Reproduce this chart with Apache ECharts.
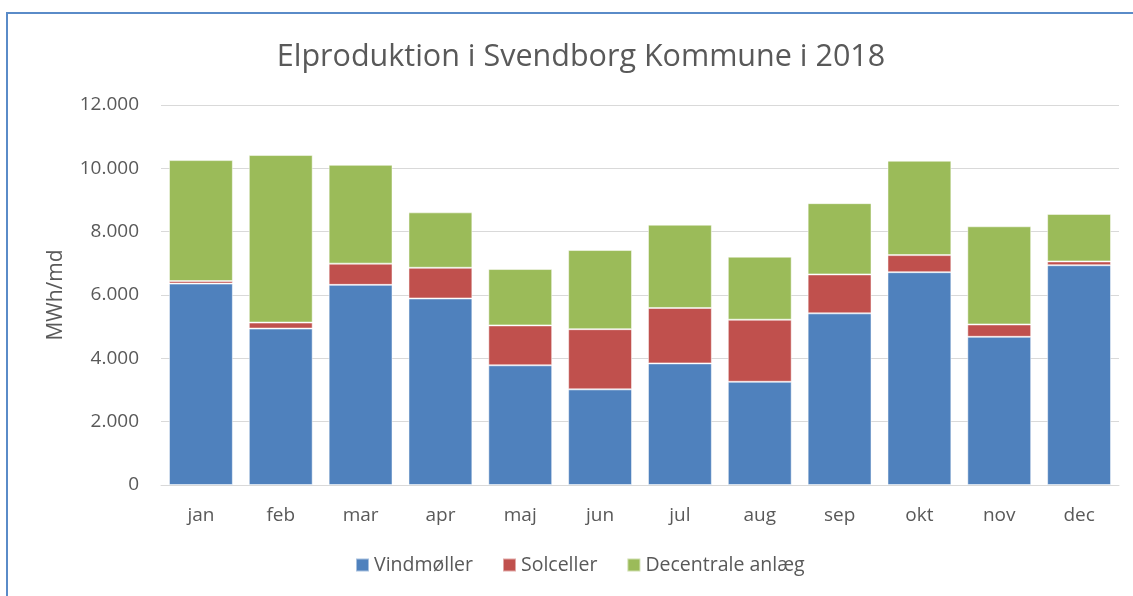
<!DOCTYPE html>
<html>
<head>
<meta charset="utf-8">
<script src="https://cdn.jsdelivr.net/npm/echarts@6/dist/echarts.min.js"></script>
<style>
  html, body { margin: 0; padding: 0; background: #fff; }
  #chart { width: 1133px; height: 596px; position: relative; }
  .frame {
    position: absolute; left: 6px; top: 12px; right: -10px; bottom: -10px;
    border-left: 2px solid #5A8BC8; border-top: 2px solid #5A8BC8;
    pointer-events: none;
  }
</style>
</head>
<body>
<div id="chart"></div>
<div class="frame"></div>
<script>
// months
const months = ['jan', 'feb', 'mar', 'apr', 'maj', 'jun', 'jul', 'aug', 'sep', 'okt', 'nov', 'dec']
// MWh per month
const vindmoller = [6360, 4940, 6320, 5890, 3780, 3020, 3840, 3260, 5420, 6720, 4680, 6940]
const solceller = [80, 190, 670, 970, 1260, 1900, 1750, 1960, 1230, 540, 390, 120]
const decentrale = [3820, 5290, 3120, 1750, 1780, 2500, 2630, 1990, 2250, 2980, 3100, 1500]

const textColor = '#595959'
const font = '"Open Sans", sans-serif'

const chart = echarts.init(document.getElementById('chart'))

function bar (name, data, color) {
  return {
    name: name,
    type: 'bar',
    stack: 'total',
    barWidth: '80%',
    itemStyle: {
      color: color,
      borderColor: 'rgba(255,255,255,0.5)',
      borderWidth: 1
    },
    data: data
  }
}

chart.setOption({
  animation: false,
  textStyle: { fontFamily: font },
  title: {
    text: 'Elproduktion i Svendborg Kommune i 2018',
    left: 576,
    textAlign: 'center',
    top: 37,
    textStyle: {
      color: textColor,
      fontSize: 30.5,
      fontWeight: 'normal',
      fontFamily: font
    }
  },
  legend: {
    left: 350,
    top: 550,
    itemWidth: 13,
    itemHeight: 13,
    itemGap: 29,
    icon: 'rect',
    textStyle: { color: textColor, fontSize: 19.5, fontFamily: font },
    data: ['Vindmøller', 'Solceller', 'Decentrale anlæg']
  },
  grid: {
    left: 161,
    right: 14,
    top: 105,
    bottom: 111
  },
  xAxis: {
    type: 'category',
    data: months,
    axisLine: { lineStyle: { color: '#D9D9D9', width: 1 } },
    axisTick: { show: false },
    axisLabel: { color: textColor, fontSize: 19, margin: 21, fontFamily: font }
  },
  yAxis: {
    type: 'value',
    min: 0,
    max: 12000,
    interval: 2000,
    name: 'MWh/md',
    nameLocation: 'middle',
    nameGap: 94,
    nameTextStyle: { color: textColor, fontSize: 21, fontFamily: font },
    axisLine: { show: false },
    axisTick: { show: false },
    axisLabel: {
      color: textColor,
      fontSize: 19,
      margin: 22,
      fontFamily: font,
      formatter: v => v === 0 ? '0' : v.toLocaleString('da-DK')
    },
    splitLine: { lineStyle: { color: '#D9D9D9', width: 1 } }
  },
  series: [
    bar('Vindmøller', vindmoller, '#4F81BD'),
    bar('Solceller', solceller, '#C0504D'),
    bar('Decentrale anlæg', decentrale, '#9BBB59')
  ]
})
</script>
</body>
</html>
